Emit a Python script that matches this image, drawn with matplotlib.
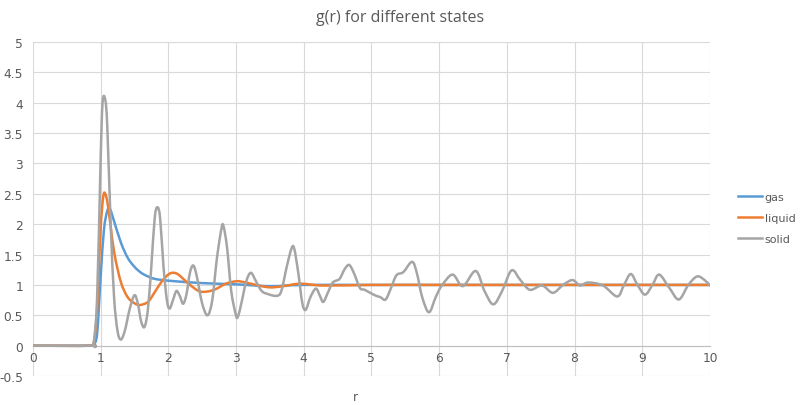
import matplotlib.pyplot as plt
from matplotlib.path import Path
from matplotlib.patches import PathPatch
from matplotlib.lines import Line2D
import numpy as np

# gas
gas_r = [0, 0.85, 0.9, 0.95, 1.0, 1.05, 1.1, 1.14, 1.2, 1.3, 1.4, 1.5, 1.6, 1.7, 1.8, 2.0, 2.5, 3.0, 3.5, 4.0, 5, 6, 7, 8, 9, 10]
gas_g = [0, 0, 0.02, 0.2, 1.1, 1.9, 2.22, 2.25, 2.05, 1.7, 1.45, 1.3, 1.2, 1.14, 1.1, 1.07, 1.03, 1.01, 0.98, 1.0, 1.0, 1.0, 1.0, 1.0, 1.0, 1.0]

# liquid
liq_r = [0, 0.85, 0.9, 0.95, 1.0, 1.04, 1.07, 1.11, 1.2, 1.3, 1.4, 1.5, 1.58, 1.7, 1.8, 1.9, 2.0, 2.07, 2.15, 2.3, 2.45, 2.57, 2.7, 2.85, 3.0, 3.1, 3.3, 3.5, 3.7, 3.95, 4.3, 5, 6, 7, 8, 9, 10]
liq_g = [0, 0, 0.05, 0.6, 1.9, 2.45, 2.5, 2.3, 1.55, 1.05, 0.8, 0.7, 0.67, 0.72, 0.88, 1.05, 1.17, 1.2, 1.17, 1.02, 0.9, 0.89, 0.93, 1.02, 1.06, 1.05, 1.0, 0.96, 0.98, 1.02, 0.99, 1.0, 1.0, 1.0, 1.0, 1.0, 1.0]

# solid
sol_r = [0, 0.85, 0.9, 0.95, 1.0, 1.03, 1.07, 1.1, 1.15, 1.2, 1.25, 1.3, 1.36, 1.43, 1.5, 1.55, 1.6, 1.65,
         1.7, 1.75, 1.8, 1.84, 1.88, 1.93, 1.98, 2.02, 2.07, 2.12, 2.17, 2.22, 2.27, 2.32, 2.37, 2.42, 2.5,
         2.58, 2.65, 2.72, 2.79, 2.82, 2.87, 2.93, 3.0, 3.03, 3.08, 3.15, 3.22, 3.3, 3.38, 3.47, 3.6, 3.67,
         3.75, 3.82, 3.86, 3.92, 3.98, 4.03, 4.1, 4.18, 4.24, 4.29, 4.36, 4.43, 4.53, 4.6, 4.67, 4.74, 4.83,
         4.9, 5.05, 5.13, 5.21, 5.29, 5.37, 5.47, 5.6, 5.67, 5.75, 5.85, 5.95, 6.04, 6.2, 6.35, 6.54, 6.67,
         6.8, 6.93, 7.07, 7.2, 7.34, 7.52, 7.68, 7.83, 7.97, 8.08, 8.2, 8.42, 8.63, 8.73, 8.83, 8.93, 9.04,
         9.15, 9.25, 9.4, 9.54, 9.68, 9.81, 9.92, 10.0]
sol_g = [0, 0, 0.05, 0.8, 3.0, 4.0, 4.05, 3.6, 2.0, 0.8, 0.25, 0.1, 0.25, 0.6, 0.83, 0.7, 0.4, 0.31,
         0.6, 1.3, 2.1, 2.28, 2.1, 1.3, 0.75, 0.61, 0.75, 0.9, 0.82, 0.69, 0.85, 1.2, 1.32, 1.15, 0.7,
         0.5, 0.75, 1.45, 1.95, 1.95, 1.6, 0.9, 0.5, 0.48, 0.7, 1.05, 1.2, 1.05, 0.9, 0.85, 0.82, 0.9,
         1.3, 1.6, 1.6, 1.2, 0.7, 0.59, 0.8, 0.94, 0.82, 0.72, 0.88, 1.04, 1.1, 1.25, 1.33, 1.2, 0.95,
         0.92, 0.83, 0.8, 0.76, 0.95, 1.16, 1.21, 1.38, 1.2, 0.8, 0.55, 0.8, 0.99, 1.17, 0.98, 1.23, 0.9,
         0.68, 0.9, 1.24, 1.08, 0.92, 0.99, 0.87, 1.0, 1.08, 0.99, 1.04, 0.99, 0.81, 1.0, 1.18, 1.0, 0.84,
         1.0, 1.17, 0.95, 0.76, 1.0, 1.14, 1.08, 0.99]


def smooth_path(x, y):
    # excel-like smoothed line: catmull-rom segments as cubic beziers
    p = np.column_stack([x, y]).astype(float)
    verts = [p[0]]
    codes = [Path.MOVETO]
    n = len(p)
    for i in range(n - 1):
        p0 = p[i - 1] if i > 0 else p[i]
        p3 = p[i + 2] if i + 2 < n else p[i + 1]
        c1 = p[i] + (p[i + 1] - p0) / 6
        c2 = p[i + 1] - (p3 - p[i]) / 6
        verts += [c1, c2, p[i + 1]]
        codes += [Path.CURVE4] * 3
    return Path(verts, codes)


fig = plt.figure(figsize=(8, 4.06), dpi=100)
ax = fig.add_axes([0.041, 0.0714, 0.8465, 0.8226])

series = [(gas_r, gas_g, '#5B9BD5', 'gas'),
          (liq_r, liq_g, '#ED7D31', 'liquid'),
          (sol_r, sol_g, '#A5A5A5', 'solid')]
handles = []
for r, g, col, name in series:
    ax.add_patch(PathPatch(smooth_path(r, g), facecolor='none', edgecolor=col, lw=1.8,
                           capstyle='round', joinstyle='round', zorder=3))
    handles.append(Line2D([], [], color=col, lw=1.8, label=name))

ax.set_xlim(0, 10)
ax.set_ylim(-0.5, 5)
ax.set_xticks(range(0, 11))
ax.set_yticks(np.arange(-0.5, 5.01, 0.5))
ax.set_yticklabels(['-0.5', '0', '0.5', '1', '1.5', '2', '2.5', '3', '3.5', '4', '4.5', '5'])
ax.grid(True, color='#d9d9d9', lw=0.8)
ax.set_axisbelow(True)
for s in ['top', 'right', 'left']:
    ax.spines[s].set_visible(False)
ax.spines['bottom'].set_position(('data', 0))
ax.spines['bottom'].set_color('#bfbfbf')
ax.spines['bottom'].set_linewidth(0.8)
ax.tick_params(length=0, colors='#595959', labelsize=8.8, pad=4)
ax.tick_params(axis='y', pad=7)

fig.text(0.444, 0.022, 'r', ha='center', va='center', color='#595959', fontsize=8.5)
fig.suptitle('g(r) for different states', x=0.5, y=0.975, color='#595959', fontsize=11.5,
             family='Open Sans')

fig.legend(handles=handles, loc='center left', bbox_to_anchor=(0.91, 0.46), frameon=False,
           fontsize=8, handlelength=2.2, handletextpad=0.2, labelcolor='#595959',
           labelspacing=1.0)

plt.savefig('out.png')
